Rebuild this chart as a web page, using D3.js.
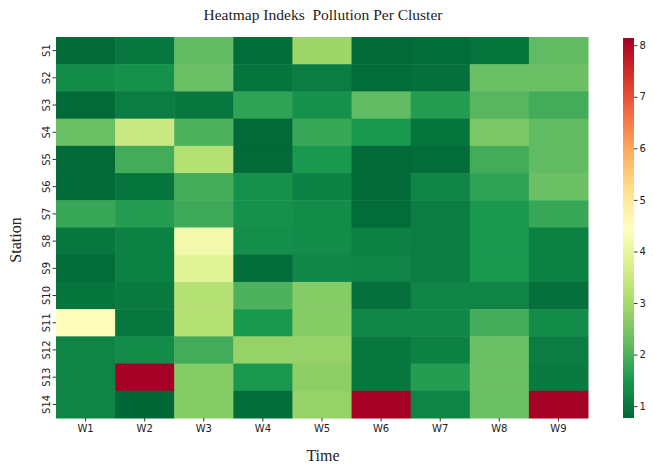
<!DOCTYPE html>
<html>
<head>
<meta charset="utf-8">
<script src="https://cdn.jsdelivr.net/npm/d3@7"></script>
<style>
  body { margin: 0; background: #fff; }
  svg text { fill: #222; }
</style>
</head>
<body>
<div id="container" style="width:653px;height:466px"></div>
<script>
//chart data
const weeks = ["W1", "W2", "W3", "W4", "W5", "W6", "W7", "W8", "W9"]
const stations = ["S1", "S2", "S3", "S4", "S5", "S6", "S7", "S8", "S9", "S10", "S11", "S12", "S13", "S14"]
const values = [
  [0.80, 1.00, 2.20, 0.85, 2.90, 0.80, 0.85, 0.95, 2.20],
  [1.30, 1.40, 2.30, 0.95, 1.10, 0.85, 0.90, 2.30, 2.30],
  [0.80, 1.10, 1.00, 1.70, 1.40, 2.20, 1.60, 2.10, 1.90],
  [2.30, 3.50, 2.00, 0.80, 1.80, 1.50, 0.95, 2.50, 2.20],
  [0.80, 1.90, 3.20, 0.80, 1.50, 0.80, 0.85, 1.90, 2.20],
  [0.80, 0.95, 1.90, 1.40, 1.15, 0.80, 1.20, 1.70, 2.30],
  [1.80, 1.60, 1.85, 1.40, 1.30, 0.85, 1.10, 1.50, 1.80],
  [1.00, 1.15, 4.20, 1.35, 1.30, 1.15, 1.10, 1.50, 1.15],
  [0.85, 1.15, 3.90, 0.85, 1.25, 1.20, 1.10, 1.50, 1.15],
  [0.95, 1.05, 3.20, 2.00, 2.60, 0.90, 1.20, 1.20, 0.90],
  [4.50, 1.00, 3.20, 1.50, 2.60, 1.25, 1.25, 1.90, 1.30],
  [1.20, 1.30, 1.90, 2.80, 2.80, 1.00, 1.15, 2.30, 1.10],
  [1.20, 8.14, 2.60, 1.50, 2.70, 1.00, 1.60, 2.30, 1.05],
  [1.20, 0.77, 2.60, 0.85, 2.80, 8.14, 1.20, 2.30, 8.14]
]
const cbarTicks = [1, 2, 3, 4, 5, 6, 7, 8]

//RdYlGn reversed (matplotlib style, linear segments)
const palette = ["#006837", "#1a9850", "#66bd63", "#a6d96a", "#d9ef8b", "#ffffbf",
                 "#fee08b", "#fdae61", "#f46d43", "#d73027", "#a50026"]

const width = 653, height = 466
const plot = {left: 56, right: 588, top: 37, bottom: 418}
const cbar = {left: 623, right: 634, top: 38, bottom: 418}

let svg = d3.select("#container").append("svg")
    .attr("width", width)
    .attr("height", height)

const ext = d3.extent(values.flat())
const color = d3.scaleLinear()
    .domain(d3.range(palette.length).map(i => ext[0] + i * (ext[1] - ext[0]) / (palette.length - 1)))
    .range(palette)
    .clamp(true)

let x = d3.scaleBand().domain(weeks).range([plot.left, plot.right])
let y = d3.scaleBand().domain(stations).range([plot.top, plot.bottom])

//cells
const cells = []
values.forEach((row, i) => row.forEach((v, j) => cells.push({s: stations[i], w: weeks[j], v: v})))

svg.append("g").selectAll("rect")
    .data(cells)
    .enter().append("rect")
    .attr("x", d => x(d.w))
    .attr("y", d => y(d.s))
    .attr("width", x.bandwidth() + 0.5)
    .attr("height", y.bandwidth() + 0.5)
    .attr("fill", d => color(d.v))

//axes
let xAxis = svg.append("g")
    .attr("transform", `translate(0,${plot.bottom})`)
    .call(d3.axisBottom(x).tickSize(3.5).tickPadding(3))
xAxis.select(".domain").remove()
xAxis.selectAll("text").style("font-family", "'DejaVu Sans', sans-serif").style("font-size", "10px")
xAxis.selectAll("line").attr("stroke", "#333")

let yAxis = svg.append("g")
    .attr("transform", `translate(${plot.left},0)`)
    .call(d3.axisLeft(y).tickSize(3.5).tickPadding(3))
yAxis.select(".domain").remove()
yAxis.selectAll("line").attr("stroke", "#333")
yAxis.selectAll("text")
    .style("font-family", "'DejaVu Sans', sans-serif").style("font-size", "10px")
    .attr("text-anchor", "middle")
    .attr("dy", null)
    .attr("x", null)
    .attr("transform", "translate(-10,0) rotate(-90)")
    .attr("dominant-baseline", "central")

//title and labels
svg.append("text")
    .attr("x", 323).attr("y", 20)
    .attr("text-anchor", "middle")
    .style("white-space", "pre")
    .style("font-family", "'Liberation Serif', serif").style("font-size", "15.5px")
    .text("Heatmap Indeks  Pollution Per Cluster")

svg.append("text")
    .attr("x", 323).attr("y", 461)
    .attr("text-anchor", "middle")
    .style("font-family", "'Liberation Serif', serif").style("font-size", "16px")
    .text("Time")

svg.append("text")
    .attr("transform", "translate(21,240) rotate(-90)")
    .attr("text-anchor", "middle")
    .style("font-family", "'Liberation Serif', serif").style("font-size", "16px")
    .text("Station")

//colorbar
const defs = svg.append("defs")
const grad = defs.append("linearGradient")
    .attr("id", "cbarGrad")
    .attr("x1", 0).attr("y1", 1).attr("x2", 0).attr("y2", 0)
palette.forEach((c, i) => grad.append("stop")
    .attr("offset", i / (palette.length - 1))
    .attr("stop-color", c))

svg.append("rect")
    .attr("x", cbar.left).attr("y", cbar.top)
    .attr("width", cbar.right - cbar.left)
    .attr("height", cbar.bottom - cbar.top)
    .attr("fill", "url(#cbarGrad)")

let cy = d3.scaleLinear().domain(ext).range([cbar.bottom, cbar.top])
let cAxis = svg.append("g")
    .attr("transform", `translate(${cbar.right},0)`)
    .call(d3.axisRight(cy).tickValues(cbarTicks).tickFormat(d3.format("d")).tickSize(3.5).tickPadding(2))
cAxis.select(".domain").remove()
cAxis.selectAll("line").attr("stroke", "#333")
cAxis.selectAll("text").style("font-family", "'DejaVu Sans', sans-serif").style("font-size", "10px")
</script>
</body>
</html>
